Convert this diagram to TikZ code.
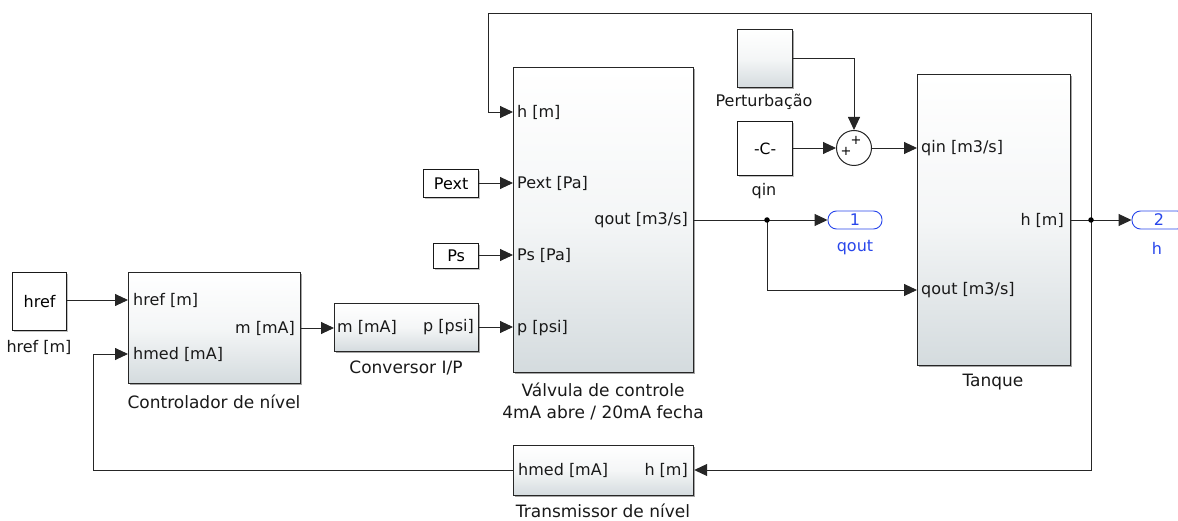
\documentclass[tikz,border=0pt]{standalone}
\usepackage{fontspec}
\setmainfont{DejaVu Sans}
\usetikzlibrary{arrows.meta,shadows,calc}
\definecolor{blkbot}{RGB}{212,219,222}
\definecolor{portblue}{RGB}{40,70,235}
\begin{document}
\begin{tikzpicture}[x=1pt,y=-1pt,
  plab/.style={font=\fontsize{16}{18}\selectfont, inner sep=0pt, text=black!90},
  captxt/.style={font=\fontsize{17}{20}\selectfont, inner sep=0pt, text=black!90},
  blk/.style={draw=black!85, line width=1.2pt, top color=white, bottom color=blkbot, middle color=white!75!blkbot,
     drop shadow={shadow xshift=1.8pt, shadow yshift=-1.8pt, fill=black!50, opacity=0.7},
     anchor=north west, inner sep=0pt},
  src/.style={draw=black!90, line width=1.2pt, fill=white,
     drop shadow={shadow xshift=1.3pt, shadow yshift=-1.3pt, fill=black!40, opacity=0.6},
     anchor=north west, inner sep=0pt},
  sig/.style={draw=black!85, line width=0.9pt, -{Triangle[length=13pt,width=12pt]}},
  wire/.style={draw=black!85, line width=0.9pt},
  outp/.style={draw=portblue, line width=0.9pt, fill=white, rounded corners=8.5pt,
     minimum width=54pt, minimum height=18pt, inner sep=0pt, text=portblue,
     font=\fontsize{16}{18}\selectfont},
  bdot/.style={circle, fill=black, inner sep=0pt, minimum size=5.5pt}
]
\useasboundingbox (0,0) rectangle (1178,521);

% ---------- blocks ----------
\node[src, minimum width=54pt, minimum height=58pt] (href) at (12,272) {};
\node (hreftxt) at (href.center) {\fontsize{16}{18}\selectfont href};
\node[captxt, font=\fontsize{16}{18}\selectfont] (hrefcap) at (39,347) {href [m]};

\node[blk, minimum width=172pt, minimum height=111pt] (ctrl) at (128,272) {};
\node[blk, minimum width=144pt, minimum height=48pt] (conv) at (334,303) {};
\node[blk, minimum width=180pt, minimum height=305pt] (valve) at (513,67) {};
\node[blk, minimum width=153pt, minimum height=291pt] (tank) at (917,74) {};
\node[blk, minimum width=180pt, minimum height=50pt] (trans) at (513,445) {};
\node[blk, minimum width=55pt, minimum height=58pt] (pert) at (737,29) {};
\node[src, minimum width=55pt, minimum height=54pt] (const) at (737,121) {};
\node (consttxt) at (const.center) {\fontsize{15.5}{17}\selectfont -C-};

\node[src, minimum width=55pt, minimum height=28pt] (pext) at (423,169) {};
\node (pexttxt) at (pext.center) {\fontsize{16}{18}\selectfont Pext};
\node[src, minimum width=45pt, minimum height=25pt] (ps) at (433,243) {};
\node (pstxt) at (ps.center) {\fontsize{16}{18}\selectfont Ps};

\node[circle, draw=black!85, line width=1pt, fill=white, minimum size=35pt, inner sep=0pt] (sum) at (854,148) {};
\node[inner sep=0pt, font=\fontsize{13}{13}\selectfont] (sp1) at (846,151) {+};
\node[inner sep=0pt, font=\fontsize{13}{13}\selectfont] (sp2) at (856,140) {+};

\node[outp] (out1) at (855,220) {1};
\node[outp] (out2) at (1159,220) {2};
\node[inner sep=0pt, text=portblue, font=\fontsize{16}{18}\selectfont] (out1cap) at (855,248) {qout};
\node[inner sep=0pt, text=portblue, font=\fontsize{16}{18}\selectfont] (out2cap) at (1157,248) {h};

% ---------- port labels ----------
\node[plab, anchor=west] (c-href) at (133,300) {href [m]};
\node[plab, anchor=west] (c-hmed) at (133,354) {hmed [mA]};
\node[plab, anchor=east] (c-m) at (295,328) {m [mA]};

\node[plab, anchor=west] (cv-m) at (337,327) {m [mA]};
\node[plab, anchor=east] (cv-p) at (474,327) {p [psi]};

\node[plab, anchor=west] (v-h) at (517,112) {h [m]};
\node[plab, anchor=west] (v-pext) at (517,183) {Pext [Pa]};
\node[plab, anchor=east] (v-q) at (688,220) {qout [m3/s]};
\node[plab, anchor=west] (v-ps) at (517,255) {Ps [Pa]};
\node[plab, anchor=west] (v-p) at (517,328) {p [psi]};

\node[plab, anchor=west] (t-qin) at (921,148) {qin [m3/s]};
\node[plab, anchor=east] (t-h) at (1064,220) {h [m]};
\node[plab, anchor=west] (t-qout) at (921,290) {qout [m3/s]};

\node[plab, anchor=west] (tr-hmed) at (518,470) {hmed [mA]};
\node[plab, anchor=east] (tr-h) at (688,470) {h [m]};

% ---------- captions ----------
\node[captxt] (ctrlcap) at (214,402) {Controlador de nível};
\node[captxt] (convcap) at (406,368) {Conversor I/P};
\node[captxt] (valvecap1) at (603,390) {Válvula de controle};
\node[captxt] (valvecap2) at (603,413) {4mA abre / 20mA fecha};
\node[captxt] (tankcap) at (993,382) {Tanque};
\node[captxt] (transcap) at (603,511) {Transmissor de nível};
\node[captxt, font=\fontsize{16}{18}\selectfont] (pertcap) at (764,102) {Perturbação};
\node[captxt, font=\fontsize{16}{18}\selectfont] (constcap) at (764,191) {qin};

% ---------- coordinates ----------
\coordinate (qsplit) at (767,220);
\coordinate (hsplit) at (1091,220);
\coordinate (topR) at (1091,13);
\coordinate (topL) at (488,13);
\coordinate (botR) at (1091,470);
\coordinate (botL) at (93,470);
\coordinate (pertc) at (854,58);

% ---------- connectors ----------
\draw[sig] (href.east |- c-href.west) -- (ctrl.west |- c-href.west);
\draw[sig] (ctrl.east |- c-m.east) -- (conv.west |- c-m.east);
\draw[sig] (conv.east |- cv-p.east) -- (valve.west |- cv-p.east);
\draw[sig] (pext.east |- v-pext.west) -- (valve.west |- v-pext.west);
\draw[sig] (ps.east |- v-ps.west) -- (valve.west |- v-ps.west);
\draw[sig] (hsplit) -- (topR) -- (topL) -- (topL |- v-h.west) -- (valve.west |- v-h.west);

\draw[wire] (valve.east |- qsplit) -- (qsplit);
\draw[sig] (qsplit) -- (out1.west);
\draw[sig] (qsplit) -- (qsplit |- t-qout.west) -- (tank.west |- t-qout.west);

\draw[sig] (pert.east |- pertc) -- (pertc) -- (sum.north);
\draw[sig] (const.east |- sum.west) -- (sum.west);
\draw[sig] (sum.east) -- (tank.west |- sum.east);

\draw[wire] (tank.east |- hsplit) -- (hsplit);
\draw[sig] (hsplit) -- (out2.west);
\draw[sig] (hsplit) -- (botR) -- (trans.east |- botR);
\draw[sig] (trans.west |- botL) -- (botL) -- (botL |- c-hmed.west) -- (ctrl.west |- c-hmed.west);

\node[bdot] (d1) at (qsplit) {};
\node[bdot] (d2) at (hsplit) {};
\end{tikzpicture}
\end{document}
